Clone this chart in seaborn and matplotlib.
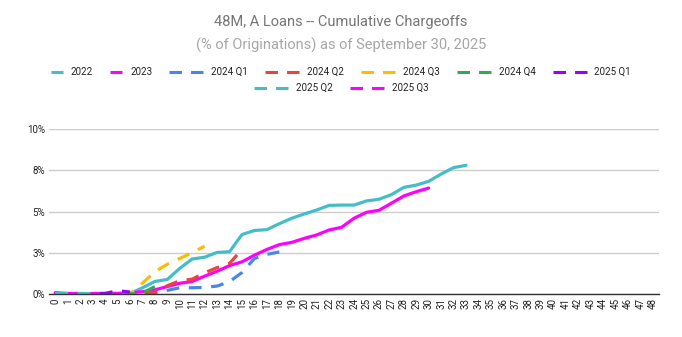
import matplotlib
matplotlib.use("Agg")
import matplotlib.pyplot as plt
from matplotlib.lines import Line2D
import numpy as np
import pandas as pd
import seaborn as sns

# ---- data: cumulative chargeoffs (% of originations) by months on book ----
vintages = ["2022", "2023", "2024 Q1", "2024 Q2", "2024 Q3",
            "2024 Q4", "2025 Q1", "2025 Q2", "2025 Q3"]

v2022 = [0.03, 0.03, 0.03, 0.02, 0.02, 0.02, 0.03, 0.37, 0.76, 0.88,
         1.55, 2.12, 2.23, 2.52, 2.56, 3.6, 3.85, 3.9, 4.26, 4.59,
         4.85, 5.09, 5.37, 5.39, 5.39, 5.64, 5.74, 6.02, 6.46, 6.6,
         6.83, 7.27, 7.66, 7.8]
v2023 = [0.08, 0.03, 0.02, 0.03, 0.04, 0.04, 0.07, 0.14, 0.25, 0.45,
         0.65, 0.76, 1.08, 1.38, 1.72, 1.95, 2.35, 2.7, 2.99, 3.13,
         3.37, 3.58, 3.88, 4.04, 4.59, 4.95, 5.07, 5.5, 5.94, 6.2,
         6.42]
v2024q1 = [0.0, 0.0, 0.0, 0.0, 0.0, 0.0, 0.0, 0.02, 0.05, 0.22,
           0.38, 0.38, 0.4, 0.48, 0.75, 1.3, 2.15, 2.4, 2.55]
v2024q2 = [0.0, 0.0, 0.0, 0.0, 0.0, 0.0, 0.0, 0.02, 0.1, 0.5,
           0.8, 0.9, 1.28, 1.6, 1.85, 2.7]
v2024q3 = [0.0, 0.0, 0.0, 0.0, 0.0, 0.0, 0.0, 0.65, 1.35, 1.8,
           2.15, 2.5, 2.9]
v2024q4 = [0.0, 0.0, 0.0, 0.0, 0.0, 0.0, 0.0, 0.05, 0.45]
v2025q1 = [0.0, 0.0, 0.01, 0.02, 0.03, 0.2, 0.12]
v2025q2 = [0.02, 0.03, 0.03, 0.02]
v2025q3 = [0.0]

series = [v2022, v2023, v2024q1, v2024q2, v2024q3,
          v2024q4, v2025q1, v2025q2, v2025q3]

colors = ["#46bdc6", "#ff00ff", "#4a86e8", "#e8453c", "#fbbc04",
          "#34a853", "#9900ff", "#46bdc6", "#ff00ff"]
solid = ["2022", "2023"]

months = list(range(0, 49))
y_ticks = [0, 2.5, 5, 7.5, 10]
y_tick_labels = ["0%", "3%", "5%", "8%", "10%"]

title = "48M, A Loans -- Cumulative Chargeoffs"
subtitle = "(% of Originations) as of September 30, 2025"

# ---- long-form table ----
frames = []
for name, vals in zip(vintages, series):
    frames.append(pd.DataFrame({"month": np.arange(len(vals)),
                                "value": vals,
                                "vintage": name}))
df = pd.concat(frames, ignore_index=True)

palette = dict(zip(vintages, colors))
dash_pat = (4, 3)
dashes = {v: ("" if v in solid else dash_pat) for v in vintages}

# ---- figure ----
sns.set_theme(style="white")
plt.rcParams["font.family"] = ["Roboto", "DejaVu Sans"]

W, H, DPI = 682, 337, 100
fig = plt.figure(figsize=(W / DPI, H / DPI), dpi=DPI)
ax = fig.add_axes([49 / W, 1 - 294 / H, (659 - 49) / W, (294 - 129) / H])

sns.lineplot(data=df, x="month", y="value", hue="vintage", style="vintage",
             hue_order=vintages, style_order=vintages,
             palette=palette, dashes=dashes, linewidth=2.3,
             legend=False, ax=ax, estimator=None, sort=False)
for ln in ax.get_lines():
    ln.set_dash_capstyle("butt")
    ln.set_solid_capstyle("round")

ax.set_xlim(-0.5, 48.5)
ax.set_ylim(0, 10)
ax.set_xticks(months)
ax.set_xticklabels([str(m) for m in months], rotation=90, fontsize=7,
                   color="#222222")
ax.set_yticks(y_ticks)
ax.set_yticklabels(y_tick_labels, fontsize=7, color="#222222")
ax.tick_params(axis="both", length=0, pad=3)
ax.set_xlabel("")
ax.set_ylabel("")
ax.grid(axis="y", color="#cccccc", linewidth=1)
ax.set_axisbelow(True)
for s in ["top", "right", "left"]:
    ax.spines[s].set_visible(False)
ax.spines["bottom"].set_color("#333333")
ax.spines["bottom"].set_linewidth(1)
ax.spines["bottom"].set_zorder(5)

# ---- titles ----
fig.text(0.5, 1 - 22 / H, title, ha="center", va="center",
         fontsize=10.5, color="#757575")
fig.text(0.5, 1 - 45 / H, subtitle, ha="center", va="center",
         fontsize=10.5, color="#a6a6a6")

# ---- legend, two centred rows ----
renderer = fig.canvas.get_renderer()
rows = [vintages[:7], vintages[7:]]
row_y = [72, 88]
leg_fs = 7
gap_item = 17
gap_text = 8

def handle_width(name):
    return 12 if name in solid else 34

for names, yp in zip(rows, row_y):
    widths = []
    texts = []
    for nm in names:
        t = fig.text(0, 0, nm, fontsize=leg_fs, color="#222222",
                     ha="left", va="center")
        bb = t.get_window_extent(renderer)
        widths.append(bb.width)
        texts.append(t)
    total = sum(handle_width(n) + gap_text + w for n, w in zip(names, widths))
    total += gap_item * (len(names) - 1)
    x = (W - total) / 2
    yf = 1 - yp / H
    for nm, w, t in zip(names, widths, texts):
        hw = handle_width(nm)
        ls = "-" if nm in solid else (0, (4.1, 2.95))
        fig.add_artist(Line2D([x / W, (x + hw) / W], [yf, yf],
                              transform=fig.transFigure,
                              color=palette[nm], linewidth=2.2,
                              linestyle=ls, solid_capstyle="butt",
                              dash_capstyle="butt"))
        t.set_position(((x + hw + gap_text) / W, yf))
        x += hw + gap_text + w + gap_item

fig.savefig("out.png", dpi=DPI)
